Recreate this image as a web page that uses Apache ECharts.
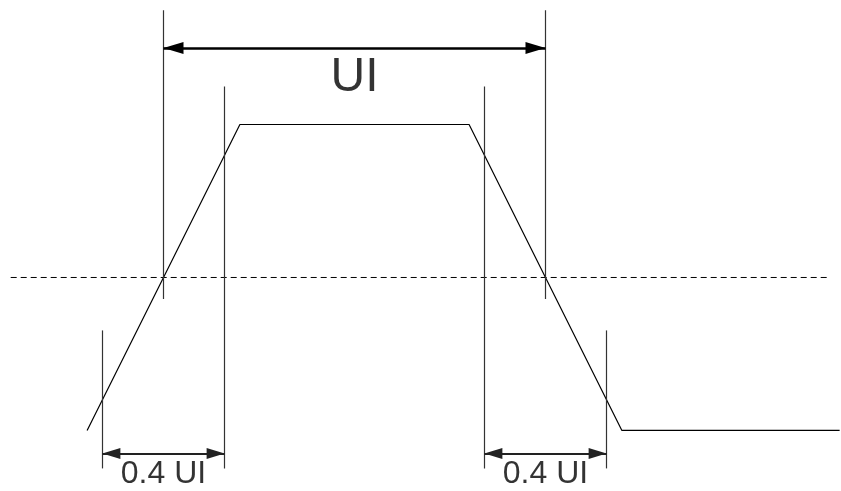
<!DOCTYPE html>
<html>
<head>
<meta charset="utf-8">
<script src="https://cdn.jsdelivr.net/npm/echarts@6/dist/echarts.min.js"></script>
<style>
  html, body { margin: 0; padding: 0; background: #fff; }
  #chart { width: 841px; height: 491px; }
</style>
</head>
<body>
<div id="chart"></div>
<script>
// time in UI, level normalised 0..1
const waveT = [-0.2, 0.2, 0.8, 1.2, 1.77]
const waveV = [0, 1, 1, 0, 0]
const threshold = 0.5
const thresholdSpan = [-0.4, 1.74]
const uiSpan = [0, 1]
const windowSpans = [[-0.16, 0.16], [0.84, 1.16]]
const uiLabel = 'UI'
const windowLabel = '0.4 UI'

// axis ranges (so that the drawing fills the page, lines land on pixel centres)
const xRange = [-0.4280, 1.7736]
const yRange = [-0.1978, 1.4068]

// heights of the guide lines / arrows
const uiArrowY = 1.25
const uiGuide = [0.43, 1.373]
const innerGuide = [-0.124, 1.124]
const outerGuide = [-0.124, 0.327]
const winArrowY = -0.075

const wave = waveT.map((t, i) => [t, waveV[i]])

const vLine = (x, ys) => [{ coord: [x, ys[0]] }, { coord: [x, ys[1]] }]
const hLine = (xs, y) => [{ coord: [xs[0], y] }, { coord: [xs[1], y] }]

let guides = [vLine(uiSpan[0], uiGuide), vLine(uiSpan[1], uiGuide)]
windowSpans.forEach(s => {
  // outer edge sits before the crossing on the rising edge, after it on the falling one
  let inner = s[0] < 0.5 ? s[1] : s[0]
  let outer = s[0] < 0.5 ? s[0] : s[1]
  guides.push(vLine(inner, innerGuide))
  guides.push(vLine(outer, outerGuide))
})

const labels = [[(uiSpan[0] + uiSpan[1]) / 2, 1.152, uiLabel, 48]]
windowSpans.forEach(s => labels.push([(s[0] + s[1]) / 2, -0.142, windowLabel, 32]))

const arrowCommon = {
  silent: true,
  symbol: ['triangle', 'triangle'],
  label: { show: false },
  emphasis: { disabled: true }
}

const option = {
  animation: false,
  backgroundColor: '#fff',
  grid: { left: 0, right: 0, top: 0, bottom: 0 },
  xAxis: { type: 'value', min: xRange[0], max: xRange[1], show: false },
  yAxis: { type: 'value', min: yRange[0], max: yRange[1], show: false },
  series: [
    {
      type: 'line', data: [[thresholdSpan[0], threshold], [thresholdSpan[1], threshold]],
      symbol: 'none', silent: true,
      lineStyle: { color: '#000', width: 1, type: [6, 4] }
    },
    {
      type: 'line', data: [], silent: true,
      markLine: {
        silent: true, symbol: ['none', 'none'], label: { show: false },
        emphasis: { disabled: true },
        lineStyle: { color: '#333', width: 1.2, type: 'solid' },
        data: guides
      }
    },
    {
      type: 'line', data: [], silent: true,
      markLine: Object.assign({}, arrowCommon, {
        symbolSize: [12, 20],
        symbolOffset: [[0, 10], [0, 10]],
        lineStyle: { color: '#000', width: 2.5, type: 'solid' },
        data: [hLine(uiSpan, uiArrowY)]
      })
    },
    {
      type: 'line', data: [], silent: true,
      markLine: Object.assign({}, arrowCommon, {
        symbolSize: [11, 18],
        symbolOffset: [[0, 9], [0, 9]],
        lineStyle: { color: '#222', width: 1.8, type: 'solid' },
        data: windowSpans.map(s => hLine(s, winArrowY))
      })
    },
    {
      type: 'line', data: wave, symbol: 'none', silent: true,
      lineStyle: { color: '#000', width: 1.2 }
    },
    {
      type: 'scatter', symbolSize: 1, silent: true,
      itemStyle: { color: 'rgba(0,0,0,0)' },
      label: {
        show: true, position: 'inside', color: '#000',
        fontFamily: 'Liberation Sans'
      },
      data: labels.map(l => ({
        value: [l[0], l[1]], name: l[2],
        label: { fontSize: l[3], formatter: l[2] }
      }))
    }
  ]
}

let chart = echarts.init(document.getElementById('chart'))
chart.setOption(option)
</script>
</body>
</html>
